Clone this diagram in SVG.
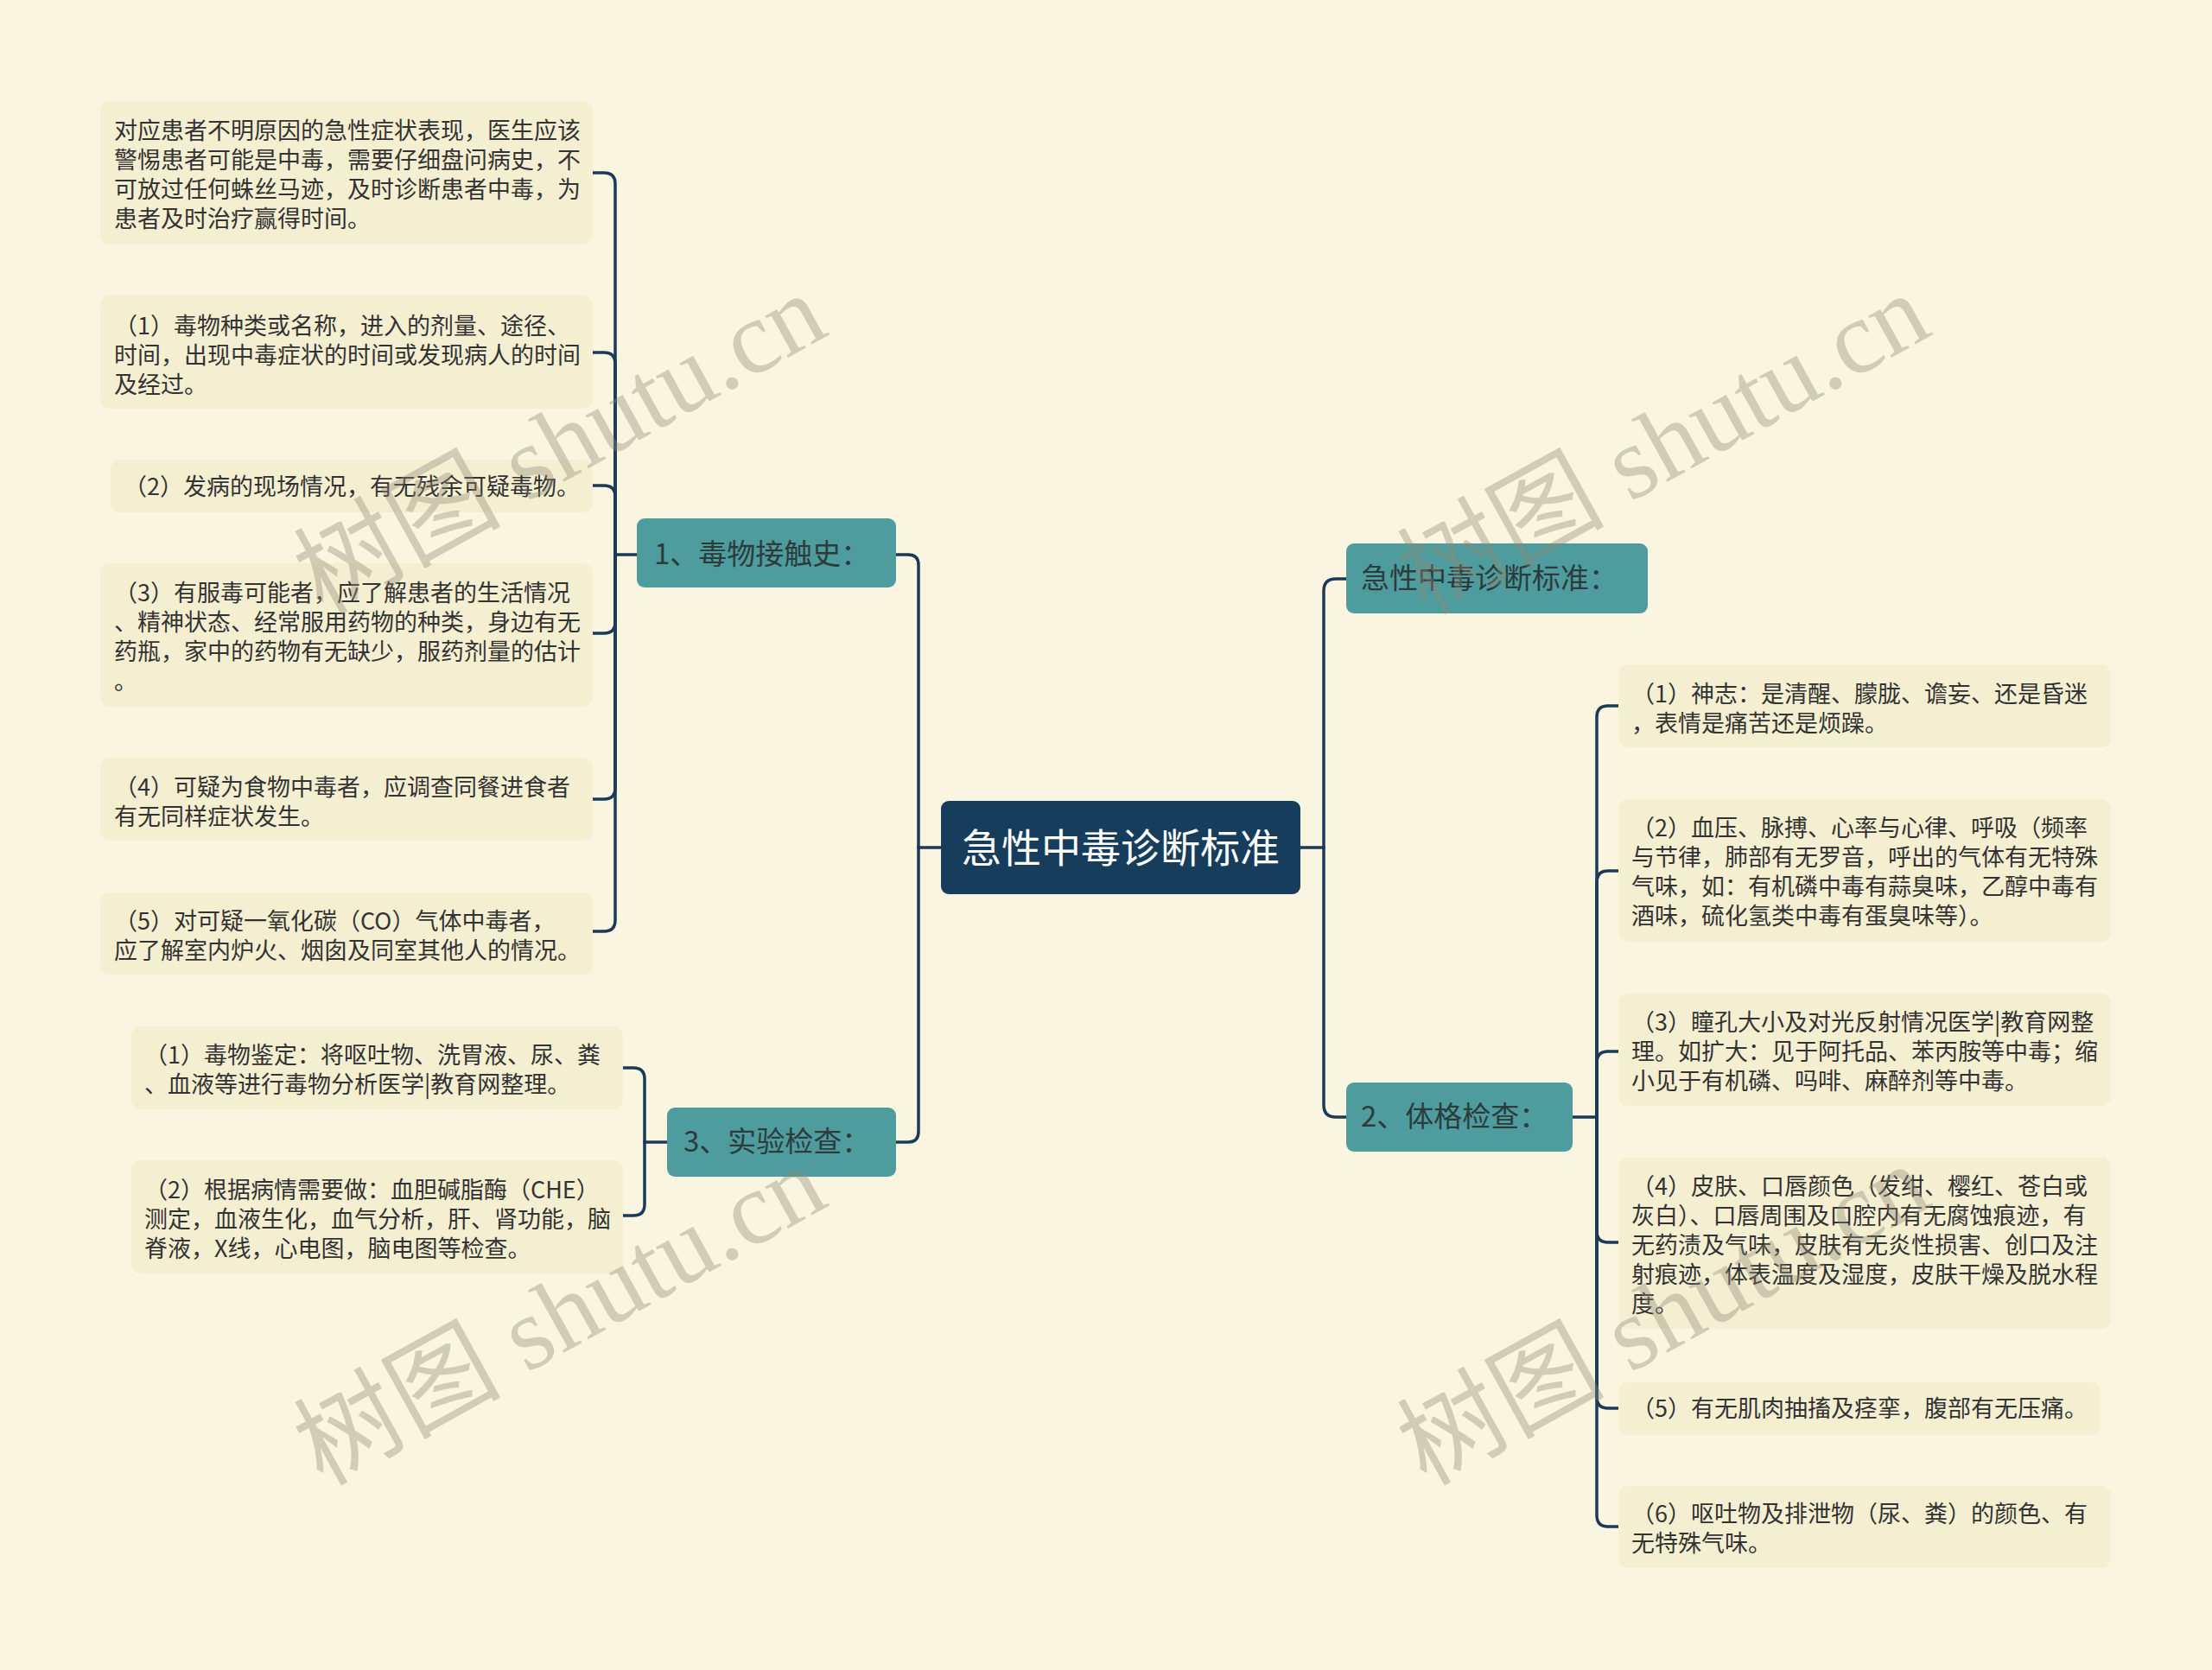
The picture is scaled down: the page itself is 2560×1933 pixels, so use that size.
<svg xmlns="http://www.w3.org/2000/svg" width="2560" height="1933" viewBox="0 0 2560 1933">
<style>
.bg{fill:#FAF5E0}
.leaf{fill:#F5EFD2}
.leaf-t{font-family:"Noto Sans CJK SC","Noto Sans",sans-serif;font-size:27px;fill:#333333;dominant-baseline:central}
.br{fill:#4E9C9E}
.br-t{font-family:"Noto Sans CJK SC","Noto Sans",sans-serif;font-size:33px;fill:#2C3B3B;dominant-baseline:central}
.root{fill:#173D5C}
.root-t{font-family:"Noto Sans CJK SC","Noto Sans",sans-serif;font-size:46px;fill:#FFFFFF;dominant-baseline:central;text-anchor:middle}
.ln{fill:none;stroke:#1A3A57;stroke-width:3.5;stroke-linecap:round}
.wm{font-family:"Liberation Serif","Noto Sans CJK SC",serif;font-size:120px;fill:#8E8975;fill-opacity:0.38;text-anchor:middle;dominant-baseline:central}
</style>
<rect class="bg" x="0" y="0" width="2560" height="1933"/>

<g id="connectors">
  <path class="ln" d="M1089 981 H1063"/>
  <path class="ln" d="M1063 981 V654 Q1063 642 1051 642 H1037"/>
  <path class="ln" d="M1063 981 V1310 Q1063 1322 1051 1322 H1037"/>
  <path class="ln" d="M1505 981 H1532"/>
  <path class="ln" d="M1532 981 V684 Q1532 670 1546 670 H1558"/>
  <path class="ln" d="M1532 981 V1279 Q1532 1293 1546 1293 H1558"/>
  <path class="ln" d="M737 642 H712"/>
  <path class="ln" d="M712 642 V213 Q712 200 699 200 H686"/>
  <path class="ln" d="M712 642 V421 Q712 408 699 408 H686"/>
  <path class="ln" d="M712 642 V575 Q712 562 699 562 H686"/>
  <path class="ln" d="M712 642 V720 Q712 733 699 733 H686"/>
  <path class="ln" d="M712 642 V912 Q712 925 699 925 H686"/>
  <path class="ln" d="M712 642 V1065 Q712 1078 699 1078 H686"/>
  <path class="ln" d="M772 1322 H746"/>
  <path class="ln" d="M746 1322 V1249 Q746 1236 733 1236 H721"/>
  <path class="ln" d="M746 1322 V1394 Q746 1407 733 1407 H721"/>
  <path class="ln" d="M1820 1293 H1848"/>
  <path class="ln" d="M1848 1293 V830 Q1848 817 1861 817 H1873"/>
  <path class="ln" d="M1848 1293 V1021 Q1848 1008 1861 1008 H1873"/>
  <path class="ln" d="M1848 1293 V1230 Q1848 1217 1861 1217 H1873"/>
  <path class="ln" d="M1848 1293 V1425 Q1848 1438 1861 1438 H1873"/>
  <path class="ln" d="M1848 1293 V1617 Q1848 1630 1861 1630 H1873"/>
  <path class="ln" d="M1848 1293 V1754 Q1848 1767 1861 1767 H1873"/>
</g>

<g id="root">
  <rect class="root" x="1089" y="927" width="416" height="108" rx="9"/>
  <text class="root-t" x="1297" y="978">急性中毒诊断标准</text>
</g>

<g id="branch1">
  <rect class="br" x="737" y="600" width="300" height="80" rx="9"/>
  <text class="br-t" x="757" y="639">1、毒物接触史：</text>
</g>
<g id="branch3">
  <rect class="br" x="772" y="1282" width="265" height="80" rx="9"/>
  <text class="br-t" x="791" y="1319">3、实验检查：</text>
</g>
<g id="branch0">
  <rect class="br" x="1558" y="629" width="349" height="81" rx="9"/>
  <text class="br-t" x="1575" y="667">急性中毒诊断标准：</text>
</g>
<g id="branch2">
  <rect class="br" x="1558" y="1253" width="262" height="80" rx="9"/>
  <text class="br-t" x="1575" y="1290">2、体格检查：</text>
</g>

<g id="leafA">
  <rect class="leaf" x="116" y="117" width="570" height="166" rx="11"/>
  <text class="leaf-t"><tspan x="132" y="149">对应患者不明原因的急性症状表现，医生应该</tspan><tspan x="132" y="183">警惕患者可能是中毒，需要仔细盘问病史，不</tspan><tspan x="132" y="217">可放过任何蛛丝马迹，及时诊断患者中毒，为</tspan><tspan x="132" y="251">患者及时治疗赢得时间。</tspan></text>
</g>
<g id="leafB">
  <rect class="leaf" x="116" y="342" width="570" height="131" rx="11"/>
  <text class="leaf-t"><tspan x="132" y="375">（1）毒物种类或名称，进入的剂量、途径、</tspan><tspan x="132" y="409">时间，出现中毒症状的时间或发现病人的时间</tspan><tspan x="132" y="443">及经过。</tspan></text>
</g>
<g id="leafC">
  <rect class="leaf" x="128" y="532" width="558" height="61" rx="11"/>
  <text class="leaf-t"><tspan x="143" y="561">（2）发病的现场情况，有无残余可疑毒物。</tspan></text>
</g>
<g id="leafD">
  <rect class="leaf" x="116" y="652" width="570" height="166" rx="11"/>
  <text class="leaf-t"><tspan x="132" y="684">（3）有服毒可能者，应了解患者的生活情况</tspan><tspan x="132" y="718">、精神状态、经常服用药物的种类，身边有无</tspan><tspan x="132" y="752">药瓶，家中的药物有无缺少，服药剂量的估计</tspan><tspan x="132" y="786">。</tspan></text>
</g>
<g id="leafE">
  <rect class="leaf" x="116" y="877" width="570" height="96" rx="11"/>
  <text class="leaf-t"><tspan x="132" y="909">（4）可疑为食物中毒者，应调查同餐进食者</tspan><tspan x="132" y="943">有无同样症状发生。</tspan></text>
</g>
<g id="leafF">
  <rect class="leaf" x="116" y="1033" width="570" height="95" rx="11"/>
  <text class="leaf-t"><tspan x="132" y="1064">（5）对可疑一氧化碳（CO）气体中毒者，</tspan><tspan x="132" y="1098">应了解室内炉火、烟囱及同室其他人的情况。</tspan></text>
</g>

<g id="leafG">
  <rect class="leaf" x="152" y="1188" width="569" height="96" rx="11"/>
  <text class="leaf-t"><tspan x="167" y="1219">（1）毒物鉴定：将呕吐物、洗胃液、尿、粪</tspan><tspan x="167" y="1253">、血液等进行毒物分析医学|教育网整理。</tspan></text>
</g>
<g id="leafH">
  <rect class="leaf" x="152" y="1343" width="569" height="131" rx="11"/>
  <text class="leaf-t"><tspan x="167" y="1375">（2）根据病情需要做：血胆碱脂酶（CHE）</tspan><tspan x="167" y="1409">测定，血液生化，血气分析，肝、肾功能，脑</tspan><tspan x="167" y="1443">脊液，X线，心电图，脑电图等检查。</tspan></text>
</g>

<g id="leafR1">
  <rect class="leaf" x="1873" y="769" width="570" height="96" rx="11"/>
  <text class="leaf-t"><tspan x="1888" y="801">（1）神志：是清醒、朦胧、谵妄、还是昏迷</tspan><tspan x="1888" y="835">，表情是痛苦还是烦躁。</tspan></text>
</g>
<g id="leafR2">
  <rect class="leaf" x="1873" y="925" width="570" height="165" rx="11"/>
  <text class="leaf-t"><tspan x="1888" y="956">（2）血压、脉搏、心率与心律、呼吸（频率</tspan><tspan x="1888" y="990">与节律，肺部有无罗音，呼出的气体有无特殊</tspan><tspan x="1888" y="1024">气味，如：有机磷中毒有蒜臭味，乙醇中毒有</tspan><tspan x="1888" y="1058">酒味，硫化氢类中毒有蛋臭味等）。</tspan></text>
</g>
<g id="leafR3">
  <rect class="leaf" x="1873" y="1150" width="570" height="130" rx="11"/>
  <text class="leaf-t"><tspan x="1888" y="1181">（3）瞳孔大小及对光反射情况医学|教育网整</tspan><tspan x="1888" y="1215">理。如扩大：见于阿托品、苯丙胺等中毒；缩</tspan><tspan x="1888" y="1249">小见于有机磷、吗啡、麻醉剂等中毒。</tspan></text>
</g>
<g id="leafR4">
  <rect class="leaf" x="1873" y="1340" width="570" height="198" rx="11"/>
  <text class="leaf-t"><tspan x="1888" y="1371">（4）皮肤、口唇颜色（发绀、樱红、苍白或</tspan><tspan x="1888" y="1405">灰白）、口唇周围及口腔内有无腐蚀痕迹，有</tspan><tspan x="1888" y="1439">无药渍及气味，皮肤有无炎性损害、创口及注</tspan><tspan x="1888" y="1473">射痕迹，体表温度及湿度，皮肤干燥及脱水程</tspan><tspan x="1888" y="1507">度。</tspan></text>
</g>
<g id="leafR5">
  <rect class="leaf" x="1873" y="1600" width="558" height="61" rx="11"/>
  <text class="leaf-t"><tspan x="1888" y="1628">（5）有无肌肉抽搐及痉挛，腹部有无压痛。</tspan></text>
</g>
<g id="leafR6">
  <rect class="leaf" x="1873" y="1720" width="570" height="95" rx="11"/>
  <text class="leaf-t"><tspan x="1888" y="1750">（6）呕吐物及排泄物（尿、粪）的颜色、有</tspan><tspan x="1888" y="1784">无特殊气味。</tspan></text>
</g>

<g id="watermarks">
  <text class="wm" transform="translate(648 514) rotate(-29)">树图 shutu.cn</text>
  <text class="wm" transform="translate(1925 514) rotate(-29)">树图 shutu.cn</text>
  <text class="wm" transform="translate(648 1522) rotate(-29)">树图 shutu.cn</text>
  <text class="wm" transform="translate(1925 1522) rotate(-29)">树图 shutu.cn</text>
</g>
</svg>
